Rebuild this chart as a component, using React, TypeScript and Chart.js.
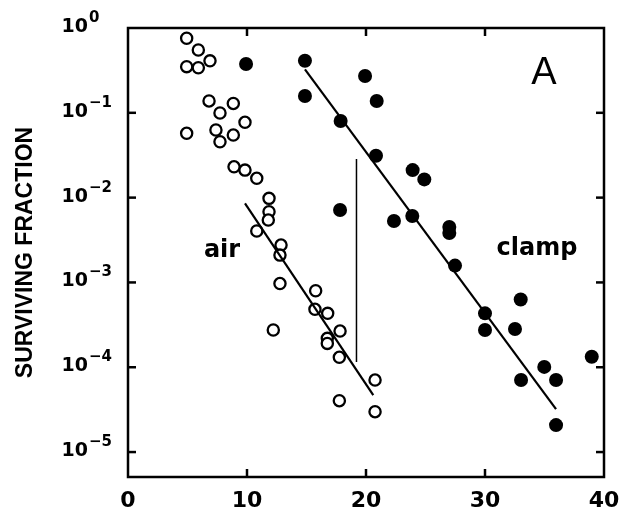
import React, { useEffect, useRef } from 'react';
import { Chart, registerables } from 'chart.js';

Chart.register(...registerables);

// Open circles: "air"
const airX = [4.93, 5.91, 4.93, 5.91, 6.89, 6.81, 7.73, 8.85, 9.83, 4.93, 7.39, 7.73, 8.85, 8.91, 9.83, 10.82, 11.85, 11.85, 11.79, 10.82, 12.86, 12.77, 12.77, 12.21, 15.77, 15.71, 16.78, 17.82, 16.75, 16.75, 17.76, 20.76, 17.76, 20.76];
const airY = [0.757, 0.55, 0.35, 0.34, 0.41, 0.138, 0.0995, 0.129, 0.0773, 0.0573, 0.0627, 0.0456, 0.0547, 0.0231, 0.0211, 0.0169, 0.0098, 0.00682, 0.00544, 0.00404, 0.00276, 0.0021, 0.00097, 2.75e-4, 7.98e-4, 4.82e-4, 4.32e-4, 2.67e-4, 2.19e-4, 1.91e-4, 1.31e-4, 7.06e-5, 4.03e-5, 2.99e-5];

// Filled circles: "clamp"
const clampX = [9.92, 14.87, 14.87, 19.92, 20.9, 17.87, 20.84, 17.82, 22.35, 23.92, 24.9, 23.89, 27.0, 27.0, 27.48, 33.0, 30.0, 30.0, 32.52, 38.97, 34.98, 33.03, 35.97, 35.97];
const clampY = [0.376, 0.411, 0.158, 0.272, 0.138, 0.08, 0.0312, 0.00714, 0.0053, 0.0211, 0.0164, 0.00607, 0.0045, 0.00383, 0.00158, 6.3e-4, 4.32e-4, 2.75e-4, 2.82e-4, 1.33e-4, 1.01e-4, 7.06e-5, 7.06e-5, 2.08e-5];

// Fitted lines
const airFitX = [9.83, 20.61];
const airFitY = [8.57e-3, 4.7e-5];
const clampFitX = [14.87, 35.97];
const clampFitY = [0.326, 3.21e-5];
// Vertical marker line
const markX = [19.2, 19.2];
const markY = [0.0285, 1.15e-4];

// Axes
const xMin = 0;
const xMax = 40;
const yMin = 5.08e-6;
const yMax = 1;
const xTickValues = [0, 10, 20, 30, 40];
const xTickLabels = ['0', '10', '20', '30', '40'];
const yTickValues = [1, 0.1, 0.01, 0.001, 0.0001, 0.00001];
const yTickExps = ['0', '\u22121', '\u22122', '\u22123', '\u22124', '\u22125'];
const yTitle = 'SURVIVING FRACTION';

// Text annotations (data coordinates)
const noteTexts = ['air', 'clamp', 'A'];
const noteX = [7.9, 34.37, 34.96];
const noteY = [2.35e-3, 2.48e-3, 0.287];

const pts = (xs: number[], ys: number[]) => xs.map((x, i) => ({ x, y: ys[i] }));

export default function App() {
  const ref = useRef<HTMLCanvasElement>(null);

  useEffect(() => {
    const canvas = ref.current;
    if (!canvas) return;

    const framePlugin = {
      id: 'frame',
      afterDraw(chart: any) {
        const { ctx, chartArea: a, scales } = chart;
        const xs = scales.x;
        const ys = scales.y;
        ctx.save();
        ctx.strokeStyle = '#000';
        ctx.fillStyle = '#000';
        ctx.lineWidth = 2.5;
        ctx.strokeRect(a.left, a.top, a.right - a.left, a.bottom - a.top);
        const seg = (x1: number, y1: number, x2: number, y2: number) => {
          ctx.beginPath();
          ctx.moveTo(x1, y1);
          ctx.lineTo(x2, y2);
          ctx.stroke();
        };
        // y ticks and labels
        yTickValues.forEach((v, i) => {
          const py = ys.getPixelForValue(v);
          if (i > 0) {
            seg(a.left, py, a.left + 8, py);
            seg(a.right, py, a.right - 8, py);
          }
          ctx.textBaseline = 'middle';
          ctx.font = 'bold 19px "DejaVu Sans"';
          ctx.textAlign = 'right';
          ctx.fillText('10', a.left - 40, py - 1);
          ctx.font = 'bold 15px "DejaVu Sans"';
          ctx.textAlign = 'left';
          ctx.fillText(yTickExps[i], a.left - 39, py - 10);
        });
        // x ticks and labels
        xTickValues.forEach((v, i) => {
          const px = xs.getPixelForValue(v);
          if (v > xMin && v < xMax) {
            seg(px, a.bottom, px, a.bottom - 8);
            seg(px, a.top, px, a.top + 8);
          }
          ctx.font = 'bold 22px "DejaVu Sans"';
          ctx.textAlign = 'center';
          ctx.textBaseline = 'middle';
          ctx.fillText(xTickLabels[i], px, a.bottom + 24);
        });
        // y title
        ctx.save();
        ctx.translate(26, (a.top + a.bottom) / 2);
        ctx.rotate(-Math.PI / 2);
        ctx.font = 'bold 23px "Liberation Sans"';
        ctx.textAlign = 'center';
        ctx.textBaseline = 'middle';
        ctx.fillText(yTitle, 0, 0);
        ctx.restore();
        // annotations
        noteTexts.forEach((t, i) => {
          const px = xs.getPixelForValue(noteX[i]);
          const py = ys.getPixelForValue(noteY[i]);
          ctx.font = t === 'A' ? '38px "Liberation Sans"' : 'bold 24px "DejaVu Sans"';
          ctx.textAlign = 'center';
          ctx.textBaseline = 'middle';
          ctx.fillText(t, px, py);
        });
        ctx.restore();
      },
    };

    const chart = new Chart(canvas, {
      type: 'scatter',
      data: {
        datasets: [
          {
            type: 'line',
            data: pts(airFitX, airFitY),
            borderColor: '#000',
            borderWidth: 2.2,
            pointRadius: 0,
            showLine: true,
            order: 0,
          } as any,
          {
            type: 'line',
            data: pts(clampFitX, clampFitY),
            borderColor: '#000',
            borderWidth: 2.2,
            pointRadius: 0,
            showLine: true,
            order: 0,
          } as any,
          {
            type: 'line',
            data: pts(markX, markY),
            borderColor: '#000',
            borderWidth: 1.5,
            pointRadius: 0,
            showLine: true,
            order: 0,
          } as any,
          {
            data: pts(airX, airY),
            pointStyle: 'circle',
            pointRadius: 5.6,
            pointBorderWidth: 2.3,
            pointBackgroundColor: '#fff',
            pointBorderColor: '#000',
            order: 1,
          },
          {
            data: pts(clampX, clampY),
            pointStyle: 'circle',
            pointRadius: 7,
            pointBorderWidth: 0,
            pointBackgroundColor: '#000',
            pointBorderColor: '#000',
            order: 2,
          },
        ],
      },
      options: {
        responsive: false,
        animation: false,
        devicePixelRatio: 1,
        layout: { padding: { left: 128, right: 18, top: 28, bottom: 38 } },
        plugins: { legend: { display: false }, tooltip: { enabled: false } },
        scales: {
          x: { type: 'linear', min: xMin, max: xMax, display: false },
          y: { type: 'logarithmic', min: yMin, max: yMax, display: false },
        },
      },
      plugins: [framePlugin],
    });
    return () => chart.destroy();
  }, []);

  return (
    <div style={{ position: 'absolute', left: 0, top: 0, width: 622, height: 515, background: '#fff' }}>
      <canvas ref={ref} width={622} height={515} style={{ display: 'block' }} />
    </div>
  );
}
